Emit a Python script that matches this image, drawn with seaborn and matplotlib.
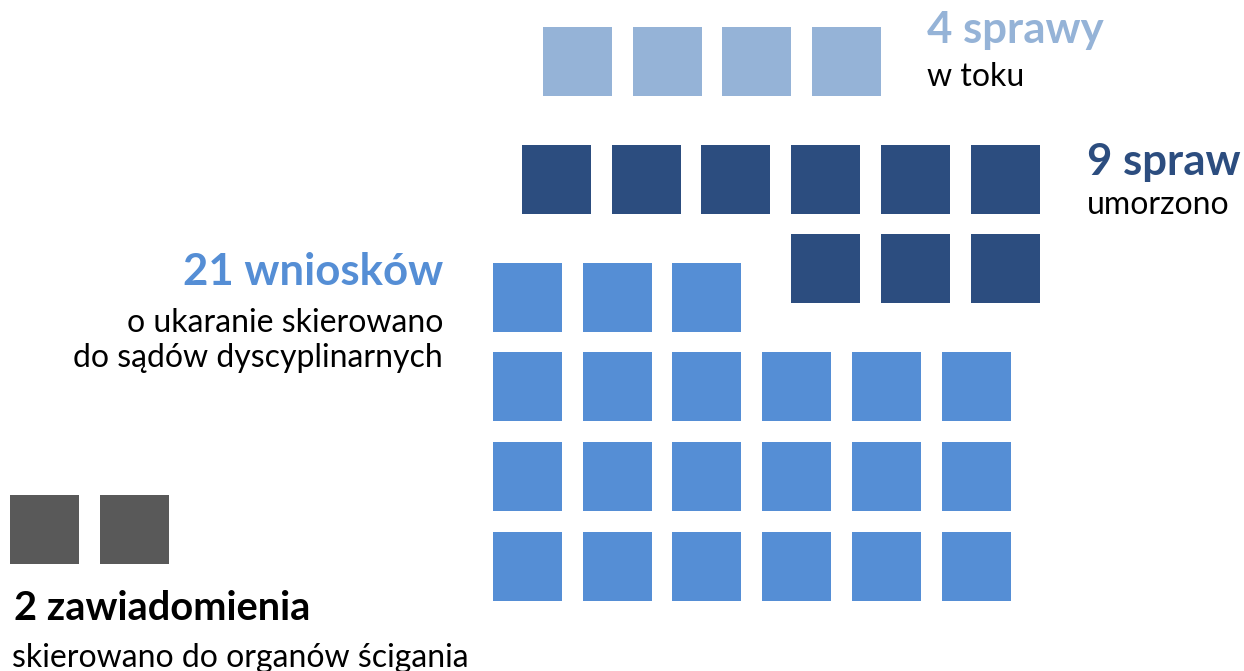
import math
import matplotlib
matplotlib.use("Agg")
import matplotlib.pyplot as plt
import seaborn as sns
import pandas as pd

# data
groups = ["w toku", "umorzono", "wnioski", "zawiadomienia"]
counts = [4, 9, 21, 2]
colors = ["#95B3D7", "#2C4D7F", "#558ED5", "#595959"]
headings = ["4 sprawy", "9 spraw", "21 wniosków", "2 zawiadomienia"]
subtexts = ["w toku", "umorzono", "o ukaranie skierowano\ndo sądów dyscyplinarnych",
            "skierowano do organów ścigania"]

# layout of each block of squares (pixel space, centre of first cell)
origins = [(577.5, 61.5), (556.5, 179.0), (527.5, 297.0), (44.5, 529.5)]
ncols = [4, 6, 6, 2]
partial_row = ["bottom", "bottom", "top", "bottom"]
partial_align = ["left", "right", "left", "left"]
STEP = 89.7
SIDE = 69  # px

rows = []
for g, n, (x0, y0), nc, prow, palign in zip(groups, counts, origins, ncols,
                                            partial_row, partial_align):
    nrows = math.ceil(n / nc)
    rem = n - (nrows - 1) * nc
    pr = 0 if prow == "top" else nrows - 1
    for r in range(nrows):
        k = rem if r == pr else nc
        start = 0 if palign == "left" else nc - k
        for c in range(start, start + k):
            rows.append({"group": g, "x": x0 + c * STEP, "y": y0 + r * STEP})
df = pd.DataFrame(rows)

sns.set_theme(style="white")
plt.rcParams["font.family"] = ["Lato", "DejaVu Sans"]

fig = plt.figure(figsize=(12.44, 6.71), dpi=100)
ax = fig.add_axes([0, 0, 1, 1])
marker_size = (SIDE * 72 / 100) ** 2
sns.scatterplot(data=df, x="x", y="y", hue="group", palette=dict(zip(groups, colors)),
                marker="s", s=marker_size, linewidth=0, legend=False, ax=ax)
ax.set_xlim(0, 1244)
ax.set_ylim(671, 0)
ax.axis("off")

head_fs = 31.5
sub_fs = 23

# 4 sprawy
ax.text(927, 43, headings[0], color=colors[0], fontsize=head_fs, fontweight="bold", va="baseline")
ax.text(927, 86, subtexts[0], color="black", fontsize=sub_fs, va="baseline")
# 9 spraw
ax.text(1087, 175, headings[1], color=colors[1], fontsize=head_fs, fontweight="bold", va="baseline")
ax.text(1087, 214, subtexts[1], color="black", fontsize=sub_fs, va="baseline")
# 21 wnioskow
ax.text(443, 285, headings[2], color=colors[2], fontsize=head_fs, fontweight="bold",
        va="baseline", ha="right")
ax.text(443, 332, "o ukaranie skierowano", color="black", fontsize=sub_fs, va="baseline", ha="right")
ax.text(443, 367, "do sądów dyscyplinarnych", color="black", fontsize=sub_fs, va="baseline", ha="right")
# 2 zawiadomienia
ax.text(14, 620, headings[3], color="black", fontsize=28.7, fontweight="bold", va="baseline")
ax.text(12, 667, subtexts[3], color="black", fontsize=sub_fs, va="baseline")

fig.savefig("out.png", dpi=100)
